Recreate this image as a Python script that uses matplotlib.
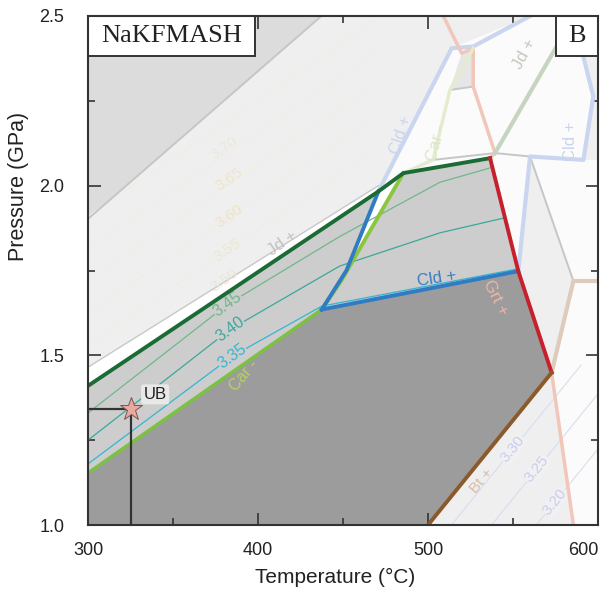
import matplotlib.pyplot as plt
from matplotlib.patches import Polygon, Rectangle

plt.rcParams['font.family'] = ['Liberation Sans', 'DejaVu Sans']

# --- field boundaries, T (°C) and P (GPa) ---
car_T = [300, 437.5]                 # Car-out (lime)
car_P = [1.153, 1.635]
cld_T = [437.5, 553.1]               # Cld + (blue, lower)
cld_P = [1.635, 1.748]
cldup_T = [437.5, 452, 470.8]        # blue, steep
cldup_P = [1.635, 1.75, 1.983]
lime_T = [437.5, 449, 485.5]         # lime, steep
lime_P = [1.635, 1.72, 2.037]
jd_T = [300, 470.8, 485.5, 536.5]    # Jd + (dark green)
jd_P = [1.41, 1.983, 2.037, 2.081]
grt_T = [536.5, 553.1, 572.7]        # Grt + (red)
grt_P = [2.081, 1.748, 1.449]
bt_T = [500, 572.7]                  # Bt + (brown)
bt_P = [1.0, 1.449]

# isopleths inside the shaded field
iso_names = ['3.45', '3.40', '3.35']
iso_T = [[300, 382, 448, 507, 537],
         [300, 383.5, 448, 507, 545],
         [300, 384.7, 437.5, 553]]
iso_P = [[1.33, 1.65, 1.85, 2.01, 2.053],
         [1.25, 1.576, 1.763, 1.861, 1.905],
         [1.18, 1.497, 1.645, 1.755]]
iso_colors = ['#6fb88a', '#3aa89a', '#35b5d0']
iso_label_T = [382, 383.5, 384.7]
iso_label_P = [1.65, 1.576, 1.497]

# faint isopleths in the high-P field
pale_names = ['3.50', '3.55', '3.60', '3.65', '3.70']
pale_label_T = [380, 382, 383, 383, 380]
pale_label_P = [1.72, 1.81, 1.91, 2.02, 2.11]
pale_colors = ['#ebe7d6', '#ece6d2', '#efe3c4', '#eee4cb', '#ece8da']

# faint isopleths in the Bt field
bt_names = ['3.30', '3.25', '3.20']
bt_label_T = [550, 564.1, 574.7]
bt_label_P = [1.224, 1.165, 1.068]

# faint boundaries of the other fields
f_blue_T = [470.8, 513.9, 526.6, 560]
f_blue_P = [1.983, 2.405, 2.41, 2.5]
f_blue2_T = [553.1, 560, 591.4, 597.2, 591.4, 588]
f_blue2_P = [1.748, 2.086, 2.076, 2.263, 2.38, 2.5]
f_pink_T = [509, 519.8, 526.6, 526.6, 539.4, 536.5]
f_pink_P = [2.5, 2.39, 2.405, 2.292, 2.096, 2.081]
f_pink2_T = [572.7, 585.5]
f_pink2_P = [1.449, 1.0]
f_green_T = [485.5, 503, 512.9, 526.6]
f_green_P = [2.037, 2.076, 2.282, 2.405]
f_sage_T = [539.4, 586]
f_sage_P = [2.096, 2.5]
f_tan_T = [600, 585.5, 572.7]
f_tan_P = [1.719, 1.719, 1.449]
f_gray_T = [[503, 539.4, 560], [560, 585.5], [512.9, 526.6], [300, 437.3]]
f_gray_P = [[2.076, 2.096, 2.086], [2.086, 1.719], [2.282, 2.292], [1.902, 2.5]]

star_T, star_P = 325.3, 1.341

fig = plt.figure(figsize=(6.09, 5.97), dpi=100)
ax = fig.add_axes([0.1445, 0.1206, 0.8375, 0.8526])
ax.set_xlim(300, 600)
ax.set_ylim(1.0, 2.5)
ax.set_facecolor('#efefef')


def poly(Ts, Ps, color, z):
    ax.add_patch(Polygon(list(zip(Ts, Ps)), closed=True, facecolor=color,
                         edgecolor='none', zorder=z))


# background fields
poly([300, 300, 437.3], [1.902, 2.5, 2.5], '#dcdcdc', 0.5)
poly([470.8, 513.9, 560, 592, 592, 597.2, 591.4, 560, 553.1, 536.5, 485.5],
     [1.983, 2.405, 2.5, 2.5, 2.376, 2.263, 2.076, 2.086, 1.748, 2.081, 2.037],
     '#fbfbfb', 0.6)
poly([519.8, 526.6, 526.6, 512.9], [2.39, 2.405, 2.292, 2.282], '#e6e6e6', 0.7)
poly([560, 591.4, 600, 600, 585.5], [2.086, 2.076, 2.076, 1.719, 1.719],
     '#fbfbfb', 0.6)
poly([585.5, 600, 600, 585.5, 572.7], [1.719, 1.719, 1.0, 1.0, 1.449],
     '#fbfbfb', 0.6)
# white band just above the Jd+ line
poly([300, 470.8, 470.8, 300], [1.41, 1.983, 2.0, 1.465], 'white', 0.6)
ax.plot([300, 470.8], [1.465, 2.0], color='#c8c8c8', lw=1, zorder=0.8)

# shaded fields
poly(jd_T + grt_T[1:2] + cld_T[::-1] + car_T[::-1],
     jd_P + grt_P[1:2] + cld_P[::-1] + car_P[::-1], '#cdcdcd', 1)
poly(cldup_T[1:] + jd_T[2:3] + lime_T[::-1][1:2],
     cldup_P[1:] + jd_P[2:3] + lime_P[::-1][1:2], 'white', 1.1)
poly([300] + car_T + cld_T[1:] + grt_T[2:] + bt_T[::-1],
     [1.0] + car_P + cld_P[1:] + grt_P[2:] + bt_P[::-1], '#9c9c9c', 1.2)

# faint isopleths in the high-P field (parallel to Jd+)
for k in range(5):
    off = 0.12 + 0.095 * k
    ax.plot([300, 470], [1.41 + off, 1.41 + off + 0.58], color='#f1eee2',
            lw=0.8, zorder=0.9)
    ax.text(pale_label_T[k], pale_label_P[k], pale_names[k], color=pale_colors[k],
            fontsize=11, rotation=35, ha='center', va='center', zorder=0.95)

# faint Bt-field isopleths (parallel to Bt+)
for k in range(3):
    T0, P0 = bt_label_T[k], bt_label_P[k]
    ax.plot([T0 - 60, T0 + 40], [P0 - 60 * 0.00618, P0 + 40 * 0.00618],
            color='#d9ddf0', lw=0.8, zorder=0.9)
    ax.text(T0, P0, bt_names[k], color='#c8cdea', fontsize=11, rotation=51,
            ha='center', va='center', zorder=0.95,
            bbox=dict(facecolor='#f1f1f4', edgecolor='none', pad=0.5))

# faint boundaries
ax.plot(f_blue_T, f_blue_P, color='#cad6ef', lw=3, zorder=2)
ax.plot(f_blue2_T, f_blue2_P, color='#cad6ef', lw=3, zorder=2)
ax.plot(f_pink_T, f_pink_P, color='#f2c6b8', lw=2.5, zorder=2)
ax.plot(f_pink2_T, f_pink2_P, color='#f2c6b8', lw=2.5, zorder=2)
ax.plot(f_green_T, f_green_P, color='#e3ecd0', lw=2.5, zorder=2)
ax.plot(f_sage_T, f_sage_P, color='#c6d4c0', lw=3, zorder=2)
ax.plot(f_tan_T, f_tan_P, color='#dfcbbb', lw=3, zorder=2)
for gT, gP in zip(f_gray_T, f_gray_P):
    ax.plot(gT, gP, color='#c6c6c6', lw=1.4, zorder=1.9)

# isopleths in the shaded field
for k in range(3):
    ax.plot(iso_T[k], iso_P[k], color=iso_colors[k], lw=0.9, zorder=3)
    ax.text(iso_label_T[k], iso_label_P[k], iso_names[k], color=iso_colors[k],
            fontsize=11.5, rotation=36, ha='center', va='center', zorder=3.5,
            bbox=dict(facecolor='#cdcdcd', edgecolor='none', pad=0.3))

# main boundaries
ax.plot(car_T, car_P, color='#7cc142', lw=2.5, zorder=4)
ax.plot(lime_T, lime_P, color='#8cc63f', lw=2.8, zorder=4)
ax.plot(cldup_T, cldup_P, color='#2f7bc4', lw=2.8, zorder=4.1)
ax.plot(cld_T, cld_P, color='#2f7bc4', lw=2.8, zorder=4.1)
ax.plot(jd_T, jd_P, color='#1b6b35', lw=2.8, zorder=4.2)
ax.plot(grt_T, grt_P, color='#c6202c', lw=2.8, zorder=4.3)
ax.plot(bt_T, bt_P, color='#8b5a2b', lw=2.8, zorder=4.3)

# field labels
ax.text(505, 1.727, 'Cld +', color='#3a7cc4', fontsize=12, rotation=9,
        ha='center', va='center', zorder=5)
ax.text(540, 1.67, 'Grt +', color='#efb6a6', fontsize=12, rotation=-63,
        ha='center', va='center', zorder=5)
ax.text(531.5, 1.13, 'Bt +', color='#d8bca8', fontsize=11, rotation=51,
        ha='center', va='center', zorder=5)
ax.text(392, 1.44, 'Car -', color='#b8d060', fontsize=11.5, rotation=50,
        ha='center', va='center', zorder=3.6)
ax.text(414.7, 1.832, 'Jd +', color='#c2c2c2', fontsize=12, rotation=35,
        ha='center', va='center', zorder=5)
ax.text(484, 2.15, 'Cld +', color='#c9d5ef', fontsize=12, rotation=72,
        ha='center', va='center', zorder=3)
ax.text(505, 2.125, 'Car -', color='#dde5c6', fontsize=12, rotation=75,
        ha='center', va='center', zorder=3)
ax.text(557, 2.39, 'Jd +', color='#c3c9bd', fontsize=12, rotation=62,
        ha='center', va='center', zorder=3)
ax.text(584, 2.13, 'Cld +', color='#c9d5ef', fontsize=12, rotation=90,
        ha='center', va='center', zorder=3)

# sample UB
ax.plot([300, star_T], [star_P, star_P], color='#333333', lw=1.6, zorder=6)
ax.plot([star_T, star_T], [1.0, star_P], color='#333333', lw=1.6, zorder=6)
ax.plot(star_T, star_P, marker='*', ms=17, mfc='#e9a9a0', mec='#7a5550',
        mew=0.7, zorder=7)
ax.text(339.5, 1.385, 'UB', fontsize=12, color='#222222', ha='center',
        va='center', zorder=7,
        bbox=dict(boxstyle='round,pad=0.15', facecolor='#e8e8e8',
                  edgecolor='none'))

# boxed panel labels
ax.add_patch(Rectangle((0, 0.921), 0.327, 0.079, transform=ax.transAxes,
                       facecolor='white', edgecolor='#333333', lw=1.4,
                       zorder=8))
ax.text(0.1635, 0.9605, 'NaKFMASH', transform=ax.transAxes,
        family='Liberation Serif', fontsize=19, color='#222222',
        ha='center', va='center', zorder=8.5)
ax.add_patch(Rectangle((0.918, 0.921), 0.082, 0.079, transform=ax.transAxes,
                       facecolor='white', edgecolor='#333333', lw=1.4,
                       zorder=8))
ax.text(0.959, 0.9605, 'B', transform=ax.transAxes,
        family='Liberation Serif', fontsize=19, color='#222222',
        ha='center', va='center', zorder=8.5)

ax.set_xticks([300, 400, 500, 600])
ax.set_xticks([350, 450, 550], minor=True)
ax.set_yticks([1.0, 1.5, 2.0, 2.5])
ax.set_yticklabels(['1.0', '1.5', '2.0', '2.5'])
ax.set_yticks([1.25, 1.75, 2.25], minor=True)
ax.tick_params(which='both', direction='in', top=True, right=True,
               color='#333333', labelsize=13, labelcolor='#222222')
ax.tick_params(which='major', length=9, width=1.2)
ax.tick_params(which='minor', length=5, width=1.2)
ax.tick_params(axis='x', pad=12)
ax.tick_params(axis='y', pad=17)
ax.get_xticklabels()[-1].set_horizontalalignment('right')
ax.get_xticklabels()[-1].set_x(600)
for s in ax.spines.values():
    s.set_color('#333333')
    s.set_linewidth(1.5)
    s.set_zorder(9)
ax.set_xlabel('Temperature (°C)', fontsize=15, color='#222222')
ax.set_ylabel('Pressure (GPa)', fontsize=15.5, color='#222222')
ax.xaxis.set_label_coords(0.485, -0.085)
ax.yaxis.set_label_coords(-0.115, 0.665)

fig.savefig('out.png', dpi=100)
